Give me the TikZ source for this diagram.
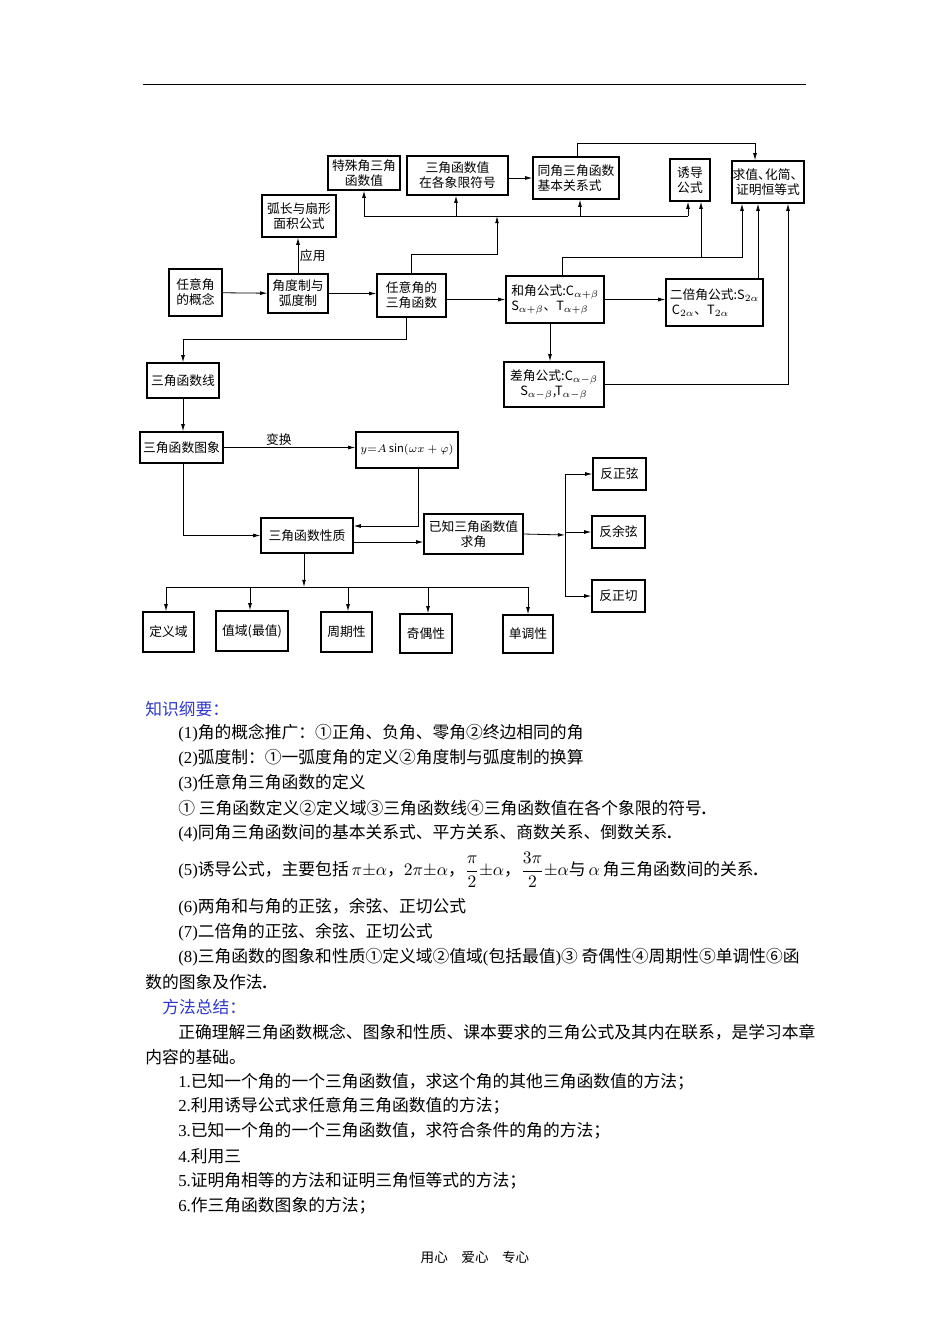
\documentclass[tikz,border=0pt]{standalone}
\usepackage{amsmath}
\usepackage{fontspec}
\setmainfont{Noto Sans CJK SC}
\newfontfamily\lat{Liberation Serif}
\usetikzlibrary{arrows.meta,positioning}
\newdimen\pxu
\pxu=0.6262pt
\definecolor{headblue}{RGB}{45,55,205}

\begin{document}
\begin{tikzpicture}[
    x=\pxu, y=-\pxu,
    box/.style={draw=black, line width=0.8pt, font=\fontsize{8}{9.5}\selectfont, align=center, inner sep=1pt},
    sz/.style 2 args={minimum width=#1\pxu, minimum height=#2\pxu},
    arr/.style={-{Latex[length=4.5pt,width=2.4pt]}, line width=0.5pt},
    lbl/.style={font=\fontsize{8}{9.5}\selectfont, inner sep=1pt},
    txt/.style={anchor=west, inner sep=0pt, font=\fontsize{10.5}{12}\selectfont}
]
    \useasboundingbox (0,0) rectangle (950,1344);
    \draw[line width=0.6pt] (143,84) -- (806,84);

    % Nodes
    \node[box, sz={72}{34}] (tsj) at (364,173) {特殊角三角\\函数值};
    \node[box, sz={101}{39}] (xx) at (457.5,175.5) {三角函数值\\在各象限符号};
    \node[box, sz={86}{42}, align=left] (tj) at (576,178) {同角三角函数\\基本关系式};
    \node[box, sz={40}{42}, align=left] (yd) at (690,180) {诱导\\公式};
    \node[box, sz={72}{42}, inner sep=0pt] (qz) at (768,182)
        {求值、\hspace{-0.45em}化简、\hspace{-0.45em}\\证明恒等式};
    \node[box, sz={74}{42}] (hc) at (299,216) {弧长与扇形\\面积公式};
    \node[box, sz={53}{47}] (rg) at (195.5,292.5) {任意角\\的概念};
    \node[box, sz={60}{39}] (jd) at (298,293.5) {角度制与\\弧度制};
    \node[box, sz={69}{43}] (rs) at (411.5,295.5) {任意角的\\三角函数};
    \node[box, sz={98}{47}, align=left] (hj) at (555,299.5)
        {和角公式:C$_{\alpha+\beta}$\\S$_{\alpha+\beta}$、T$_{\alpha+\beta}$};
    \node[box, sz={97}{47}, align=left] (eb) at (714.5,302.5)
        {二倍角公式:S$_{2\alpha}$\\\,C$_{2\alpha}$、T$_{2\alpha}$};
    \node[box, sz={100}{45}] (cj) at (554,384.5)
        {差角公式:C$_{\alpha-\beta}$\\S$_{\alpha-\beta}$,T$_{\alpha-\beta}$};
    \node[box, sz={72}{35}] (sx) at (183,380.5) {三角函数线};
    \node[box, sz={83}{31}] (tx) at (181.5,447.5) {三角函数图象};
    \node[box, sz={102}{36}, font=\fontsize{7}{8}\selectfont] (ys) at (407,450)
        {$y{=}A\,\mathrm{sin}(\omega x+\varphi)$};
    \node[box, sz={92}{35}] (xz) at (307,535.5) {三角函数性质};
    \node[box, sz={99}{40}] (yz) at (473.5,534) {已知三角函数值\\求角};
    \node[box, sz={53}{32}] (fx) at (619.5,474) {反正弦};
    \node[box, sz={53}{32}] (fy) at (618.5,532) {反余弦};
    \node[box, sz={53}{32}] (fq) at (618.5,596) {反正切};
    \node[box, sz={51}{40}] (dy) at (168.5,632) {定义域};
    \node[box, sz={72}{40}] (zy) at (252,631) {值域(最值)};
    \node[box, sz={51}{40}] (zq) at (346.5,632) {周期性};
    \node[box, sz={52}{39}] (jo) at (426,633.5) {奇偶性};
    \node[box, sz={50}{38}] (dd) at (528,634) {单调性};

    % Bends and junctions
    \coordinate (up1) at (497,254);
    \coordinate (bus1) at (497,216);
    \coordinate (tjtop) at (755,143);
    \coordinate (hjr) at (742,257);
    \coordinate (hjb) at (701,257);
    \coordinate (k1) at (183,339);
    \coordinate (jn) at (565,535);
    \coordinate (bs) at (304,587);

    % Edges
    \draw[arr] (rg) -- (jd);
    \draw[arr] (jd.east) -- (jd.east -| rs.west);
    \draw[arr] (jd.north) -- node[lbl, right] {应用} (jd.north |- hc.south);
    \draw[arr] (rs.east |- hj.west) -- (hj.west);
    \draw[arr] (rs.north) |- (up1) -- (bus1);
    \draw[line width=0.5pt] (tsj.south |- bus1) -- ([xshift=-2\pxu]yd.south |- bus1);
    \draw[arr] (tsj.south |- bus1) -- (tsj.south);
    \draw[arr] ([xshift=-1.5\pxu]xx.south |- bus1) -- ([xshift=-1.5\pxu]xx.south);
    \draw[arr] ([xshift=4\pxu]tj.south |- bus1) -- ([xshift=4\pxu]tj.south);
    \draw[arr] ([xshift=-2\pxu]yd.south |- bus1) -- ([xshift=-2\pxu]yd.south);
    \draw[arr] (xx.east |- tj.west) -- (tj.west);
    \draw[arr] ([xshift=1\pxu]tj.north) |- (tjtop) -- (tjtop |- qz.north);
    \draw[arr] ([xshift=7\pxu]hj.north) |- (hjr) -- (hjr |- qz.south);
    \draw[arr] (hjb) -- (hjb |- yd.south);
    \draw[arr] ([xshift=43.5\pxu]eb.north) -- ([xshift=43.5\pxu]eb.north |- qz.south);
    \draw[arr] (cj.east) -| ([xshift=20\pxu]qz.south);
    \draw[arr] (hj.east) -- (hj.east -| eb.west);
    \draw[arr] ([xshift=-5\pxu]hj.south) -- ([xshift=-5\pxu]hj.south |- cj.north);
    \draw[arr] ([xshift=-5.5\pxu]rs.south) |- (k1) -- (sx.north);
    \draw[arr] (sx.south) -- (sx.south |- tx.north);
    \draw[arr] (tx.east) -- node[lbl, above, pos=0.42] {变换} (tx.east -| ys.west);
    \draw[arr] ([xshift=1.5\pxu]tx.south) |- (xz.west);
    \draw[arr] ([xshift=11\pxu]ys.south) |- ([yshift=9.5\pxu]xz.east);
    \draw[arr] ([yshift=-6.5\pxu]xz.east) -- ([yshift=-6.5\pxu]xz.east -| yz.west);
    \draw[arr] (yz.east) -- (jn);
    \draw[line width=0.5pt] (jn |- fx.west) -- (jn |- fq.west);
    \draw[arr] (jn |- fx.west) -- (fx.west);
    \draw[arr] (jn |- fy.west) -- (fy.west);
    \draw[arr] (jn |- fq.west) -- (fq.west);
    \draw[arr] ([xshift=-3\pxu]xz.south) -- (bs);
    \draw[line width=0.5pt] ([xshift=-2.5\pxu]dy.north |- bs) -- (dd.north |- bs);
    \draw[arr] ([xshift=-2.5\pxu]dy.north |- bs) -- ([xshift=-2.5\pxu]dy.north);
    \draw[arr] ([xshift=-2\pxu]zy.north |- bs) -- ([xshift=-2\pxu]zy.north);
    \draw[arr] ([xshift=1.5\pxu]zq.north |- bs) -- ([xshift=1.5\pxu]zq.north);
    \draw[arr] ([xshift=2\pxu]jo.north |- bs) -- ([xshift=2\pxu]jo.north);
    \draw[arr] (dd.north |- bs) -- (dd.north);

    % Text below
    \node[txt, text=headblue] (h1) at (145,709) {知识纲要：};
    \node[txt] (p1) at (178,733) {{\lat (1)}角的概念推广：①正角、负角、零角②终边相同的角};
    \node[txt] (p2) at (178,758) {{\lat (2)}弧度制：①一弧度角的定义②角度制与弧度制的换算};
    \node[txt] (p3) at (178,783) {{\lat (3)}任意角三角函数的定义};
    \node[txt] (p3a) at (178,808) {① 三角函数定义②定义域③三角函数线④三角函数值在各个象限的符号{\lat\bfseries .}};
    \node[txt] (p4) at (178,833) {{\lat (4)}同角三角函数间的基本关系式、平方关系、商数关系、倒数关系{\lat\bfseries .}};
    \node[txt] (p5) at (178,870) {{\lat (5)}诱导公式，主要包括$\,\pi{\pm}\alpha$，$2\pi{\pm}\alpha$，$\dfrac{\pi}{2}{\pm}\alpha$，$\dfrac{3\pi}{2}{\pm}\alpha$与$\,\alpha\,$角三角函数间的关系{\lat\bfseries .}};
    \node[txt] (p6) at (178,907) {{\lat (6)}两角和与角的正弦，余弦、正切公式};
    \node[txt] (p7) at (178,932) {{\lat (7)}二倍角的正弦、余弦、正切公式};
    \node[txt] (p8) at (178,957) {{\lat (8)}三角函数的图象和性质①定义域②值域{\lat (}包括最值{\lat )}③ 奇偶性④周期性⑤单调性⑥函};
    \node[txt] (p8a) at (145,982) {数的图象及作法{\lat\bfseries .}};
    \node[txt, text=headblue] (h2) at (162,1007) {方法总结：};
    \node[txt] (m0) at (178,1032) {正确理解三角函数概念、图象和性质、课本要求的三角公式及其内在联系，是学习本章};
    \node[txt] (m0a) at (145,1057) {内容的基础。};
    \node[txt] (m1) at (178,1082) {{\lat 1.}已知一个角的一个三角函数值，求这个角的其他三角函数值的方法；};
    \node[txt] (m2) at (178,1106) {{\lat 2.}利用诱导公式求任意角三角函数值的方法；};
    \node[txt] (m3) at (178,1131) {{\lat 3.}已知一个角的一个三角函数值，求符合条件的角的方法；};
    \node[txt] (m4) at (178,1156) {{\lat 4.}利用三};
    \node[txt] (m5) at (178,1181) {{\lat 5.}证明角相等的方法和证明三角恒等式的方法；};
    \node[txt] (m6) at (178,1206) {{\lat 6.}作三角函数图象的方法；};
    \node[font=\fontsize{8.5}{10}\selectfont, inner sep=0pt] (ft) at (475,1257) {用心\quad 爱心\quad 专心};
\end{tikzpicture}
\end{document}
